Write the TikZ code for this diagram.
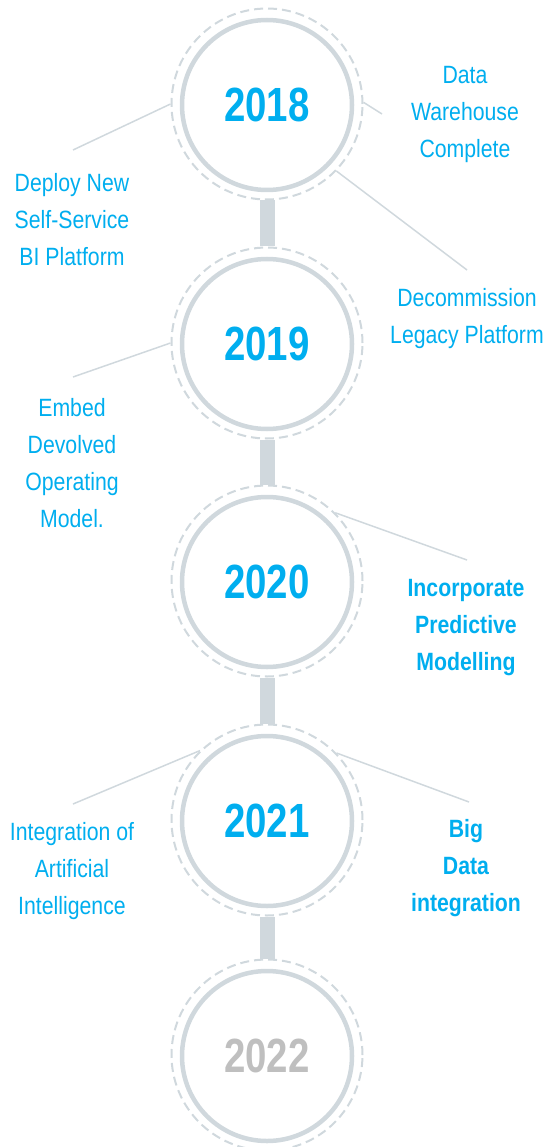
\documentclass[tikz,border=0pt]{standalone}
\usepackage{fontspec}
\setmainfont{Liberation Sans}[FakeStretch=0.85]
\newfontfamily\yearfont{Liberation Sans}[FakeStretch=0.8]
\definecolor{yearblue}{RGB}{0,174,239}
\definecolor{ringgray}{RGB}{208,216,221}
\definecolor{lategray}{RGB}{191,191,191}
\tikzset{
  ring/.style={circle, draw=ringgray, line width=4.5pt, minimum size=170pt, inner sep=0pt, text=yearblue, font=\yearfont\fontsize{48}{48}\selectfont\bfseries},
  halo/.style={circle, draw=ringgray, dash pattern=on 9pt off 5pt, line width=2pt, minimum size=191pt, inner sep=0pt},
  stem/.style={ringgray, line width=15pt},
  lead/.style={ringgray, line width=1.5pt},
  milestone/.style={align=center, text=yearblue, font=\fontsize{25}{37}\selectfont},
  keystone/.style={milestone, font=\fontsize{25}{37}\selectfont\bfseries},
}
\begin{document}
\begin{tikzpicture}[x=1pt, y=-1pt]
    \useasboundingbox (0,0) rectangle (555,1147);
    % rings
    \node[halo] (h2018) at (267,104) {};
    \node[halo] (h2019) at (267,343) {};
    \node[halo] (h2020) at (267,581) {};
    \node[halo] (h2021) at (267,820) {};
    \node[halo] (h2022) at (267,1055) {};
    \node[ring] (c2018) at (267,105) {2018};
    \node[ring] (c2019) at (267,344) {2019};
    \node[ring] (c2020) at (267,582) {2020};
    \node[ring] (c2021) at (267,821) {2021};
    \node[ring, text=lategray] (c2022) at (267,1056) {2022};
    \draw[stem] (h2018.south) -- (h2019.north);
    \draw[stem] (h2019.south) -- (h2020.north);
    \draw[stem] (h2020.south) -- (h2021.north);
    \draw[stem] (h2021.south) -- (h2022.north);
    % milestones
    \node[milestone] (dwh) at (465,114) {Data\\Warehouse\\Complete};
    \node[milestone] (bi) at (72,220) {Deploy New\\Self-Service\\BI Platform};
    \node[milestone] (legacy) at (467,319) {Decommission\\Legacy Platform};
    \node[milestone] (devolved) at (72,463) {Embed\\Devolved\\Operating\\Model.};
    \node[keystone] (predict) at (466,628) {Incorporate\\Predictive\\Modelling};
    \node[milestone] (ai) at (72,871) {Integration of\\Artificial\\Intelligence};
    \node[keystone] (bigdata) at (466,868) {Big\\Data\\integration};
    % leaders
    \coordinate (dwhend) at (382,114);
    \coordinate (biend) at (73,150);
    \coordinate (legacyend) at (467,270);
    \coordinate (devolvedend) at (73,377);
    \coordinate (predictend) at (467,560);
    \coordinate (aiend) at (73,804);
    \coordinate (bigdataend) at (469,802);
    \draw[lead] (h2018.1) -- (dwhend);
    \draw[lead] (h2018.west) -- (biend);
    \draw[lead] (h2018.-44) -- (legacyend);
    \draw[lead] (h2019.west) -- (devolvedend);
    \draw[lead] (h2020.45) -- (predictend);
    \draw[lead] (h2021.134) -- (aiend);
    \draw[lead] (h2021.44) -- (bigdataend);
\end{tikzpicture}
\end{document}
